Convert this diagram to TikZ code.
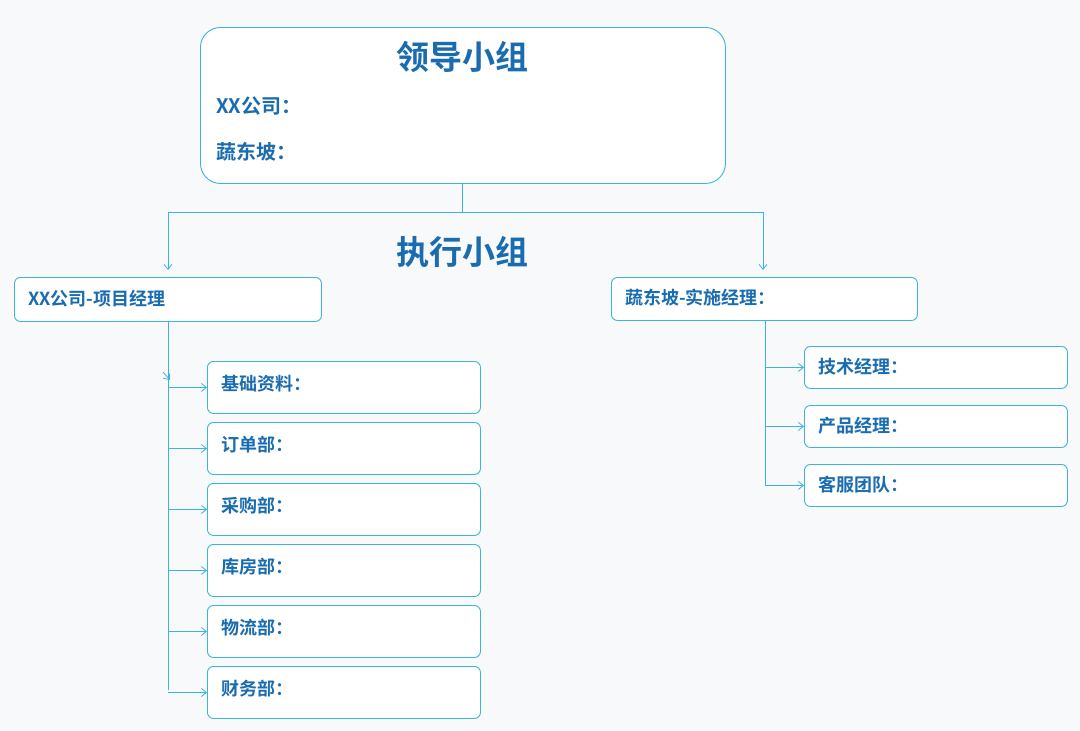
\documentclass[tikz,border=0pt]{standalone}
\usepackage{fontspec}
\setmainfont{Noto Sans CJK SC}[BoldFont={* Bold}]
\usetikzlibrary{arrows.meta}
\definecolor{bg}{HTML}{F7F9FA}
\definecolor{bd}{HTML}{3DB4DC}
\definecolor{tx}{HTML}{1A6CB0}
\tikzset{
 box/.style={draw=bd,fill=white,line width=0.9pt,rounded corners=6pt,anchor=north west,inner sep=0pt},
 lbl/.style={anchor=west,text=tx,font=\bfseries\fontsize{18}{18}\selectfont,inner sep=0pt},
 con/.style={draw=bd,line width=0.8pt},
 arr/.style={con,-{Straight Barb[length=5pt,width=8pt]}}
}
\begin{document}
\begin{tikzpicture}[x=1pt,y=-1pt]
\fill[bg] (0,0) rectangle (1080,731);
\useasboundingbox (0,0) rectangle (1080,731);
% top
\node[box,rounded corners=20pt,minimum width=525pt,minimum height=156pt] (top) at (200,27) {};
\node[text=tx,font=\bfseries\fontsize{33}{33}\selectfont] (t1) at (462,57) {领导小组};
\node[lbl,font=\bfseries\fontsize{20}{20}\selectfont] (t2) at (216,106) {XX公司：};
\node[lbl,font=\bfseries\fontsize{20}{20}\selectfont] (t3) at (216,152) {蔬东坡：};
\node[text=tx,font=\bfseries\fontsize{33}{33}\selectfont] (ex) at (462,252) {执行小组};
\node[box,minimum width=307pt,minimum height=44pt] (L) at (14,277) {};
\node[lbl] (Lt) at (28,299) {XX公司-项目经理};
\node[box,minimum width=306pt,minimum height=43pt] (R) at (611,277) {};
\node[lbl] (Rt) at (625,298) {蔬东坡-实施经理：};
\coordinate (j) at (462,212);
\coordinate (jl) at (168,212);
\coordinate (jr) at (763,212);
\draw[con] (top.south -| j) -- (j);
\draw[con] (jl) -- (jr);
\draw[arr] (jl) -- (168,270);
\draw[arr] (jr) -- (763,270);
% left list
\coordinate (lv) at (168,321);
\draw[con] (lv) -- (168,690);
\foreach \n/\y/\t in {a/361/基础资料：,b/422/订单部：,c/483/采购部：,d/544/库房部：,e/605/物流部：,f/666/财务部：}{
 \node[box,minimum width=273pt,minimum height=52pt] (\n) at (207,\y) {};
 \node[lbl] (\n t) at (221,\y+23) {\t};
 \draw[arr] (\n.west -| lv) -- (\n.west);
}
\draw[arr] (163,372) -- (170,380);
% right list
\coordinate (rv) at (765,320);
\draw[con] (rv) -- (765,486);
\foreach \n/\y/\t in {p/346/技术经理：,q/405/产品经理：,r/464/客服团队：}{
 \node[box,minimum width=263pt,minimum height=42pt] (\n) at (804,\y) {};
 \node[lbl] (\n t) at (818,\y+21) {\t};
 \draw[arr] (\n.west -| rv) -- (\n.west);
}
\end{tikzpicture}
\end{document}
